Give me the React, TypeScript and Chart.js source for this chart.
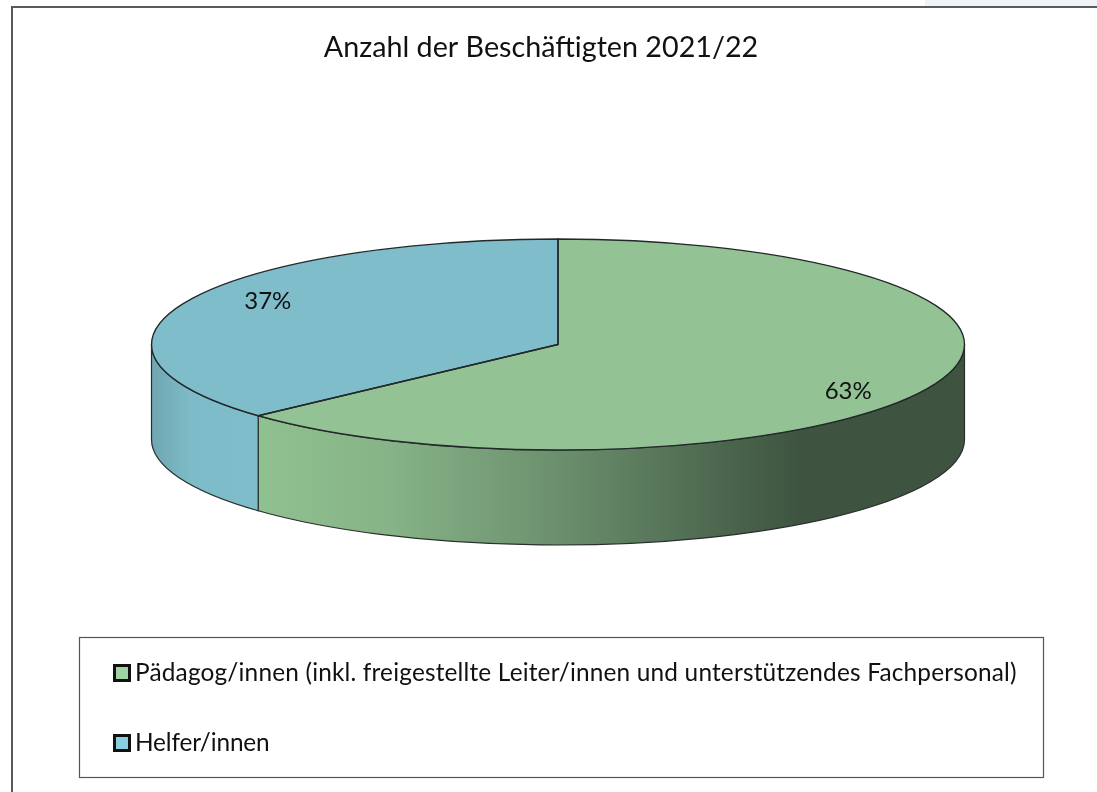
import { useEffect, useRef } from "react";
import { Chart, registerables } from "chart.js";

Chart.register(...registerables);

const TITLE = "Anzahl der Beschäftigten 2021/22";
const categories = ["Pädagog/innen (inkl. freigestellte Leiter/innen und unterstützendes Fachpersonal)", "Helfer/innen"];
const shares = [63.2, 36.8];
const topColors = ["#93c294", "#7fbdca"];
const legendColors = ["#a1d4a4", "#89cfdd"];
const legendTracking = [0.18, -0.15];

const FONT = "Lato, 'Open Sans', sans-serif";
const CX = 558, CY = 344.5, RX = 406.5, RY = 105.5, DEPTH = 95;

function ellipsePoint(a: number, dy = 0) {
  return [CX + RX * Math.cos(a), CY + RY * Math.sin(a) + dy];
}

function wallPath(ctx: CanvasRenderingContext2D, a: number, b: number) {
  ctx.beginPath();
  ctx.ellipse(CX, CY, RX, RY, 0, a, b, false);
  const [x, y] = ellipsePoint(b, DEPTH);
  ctx.lineTo(x, y);
  ctx.ellipse(CX, CY + DEPTH, RX, RY, 0, b, a, true);
  ctx.closePath();
}

const pie3d = {
  id: "pie3d",
  beforeDatasetDraw(chart: any) {
    const ctx = chart.ctx as CanvasRenderingContext2D;
    const arcs = chart.getDatasetMeta(0).data as any[];
    const grads = [
      [[258, "#90c190"], [390, "#86b387"], [560, "#6b8f6d"], [700, "#506c52"], [800, "#3e5440"], [965, "#3e5440"]],
      [[152, "#6fa6b2"], [190, "#7dbbc8"], [258, "#7fbdca"]],
    ] as [number, string][][];
    arcs.forEach((arc, i) => {
      const a = Math.max(arc.startAngle, 0);
      const b = Math.min(arc.endAngle, Math.PI);
      if (b <= a) return;
      const x0 = grads[i][0][0];
      const x1 = grads[i][grads[i].length - 1][0];
      const g = ctx.createLinearGradient(x0, 0, x1, 0);
      grads[i].forEach(([x, c]) => g.addColorStop((x - x0) / (x1 - x0), c));
      ctx.save();
      wallPath(ctx, a, b);
      ctx.fillStyle = g;
      ctx.fill();
      ctx.strokeStyle = "#2a2f2c";
      ctx.lineWidth = 1.2;
      ctx.stroke();
      ctx.restore();
    });
    const first = arcs[0];
    ctx.save();
    ctx.translate(CX, CY);
    ctx.scale(RX / first.outerRadius, RY / first.outerRadius);
    ctx.translate(-first.x, -first.y);
  },
  afterDatasetDraw(chart: any) {
    const ctx = chart.ctx as CanvasRenderingContext2D;
    ctx.restore();
    const arcs = chart.getDatasetMeta(0).data as any[];
    ctx.save();
    ctx.strokeStyle = "#23282a";
    ctx.lineWidth = 1.4;
    arcs.forEach((arc) => {
      ctx.beginPath();
      ctx.moveTo(CX, CY);
      const [x, y] = ellipsePoint(arc.startAngle);
      ctx.lineTo(x, y);
      ctx.ellipse(CX, CY, RX, RY, 0, arc.startAngle, arc.endAngle, false);
      ctx.closePath();
      ctx.stroke();
    });
    ctx.restore();
    // Value labels
    const values = chart.data.datasets[0].data as number[];
    const total = values.reduce((s, v) => s + v, 0);
    ctx.save();
    ctx.fillStyle = "#111";
    ctx.font = `24px ${FONT}`;
    ctx.textAlign = "center";
    ctx.textBaseline = "middle";
    arcs.forEach((arc, i) => {
      const mid = (arc.startAngle + arc.endAngle) / 2;
      const x = CX + RX * 0.78 * Math.cos(mid);
      const y = CY + RY * 1.06 * Math.sin(mid) + 2;
      ctx.fillText(`${Math.round((values[i] / total) * 100)}%`, x, y);
    });
    ctx.restore();
  },
  afterDraw(chart: any) {
    const ctx = chart.ctx as CanvasRenderingContext2D;
    ctx.save();
    // frame
    ctx.fillStyle = "#eff3f7";
    ctx.fillRect(925, 0, 172, 6);
    ctx.strokeStyle = "#5a5a5a";
    ctx.lineWidth = 2;
    ctx.beginPath();
    ctx.moveTo(12, 792);
    ctx.lineTo(12, 7);
    ctx.lineTo(1097, 7);
    ctx.stroke();
    // legend box
    ctx.strokeStyle = "#555";
    ctx.lineWidth = 1.2;
    ctx.strokeRect(79.5, 637.5, 964, 140);
    ctx.font = `24.4px ${FONT}`;
    ctx.textBaseline = "middle";
    ctx.textAlign = "left";
    const rows = [673, 743];
    (chart.data.labels as string[]).forEach((label, i) => {
      ctx.fillStyle = legendColors[i];
      ctx.fillRect(114.5, rows[i] - 7.5, 15, 15);
      ctx.strokeStyle = "#111";
      ctx.lineWidth = 3;
      ctx.strokeRect(114.5, rows[i] - 7.5, 15, 15);
      ctx.fillStyle = "#111";
      (ctx as any).letterSpacing = `${legendTracking[i]}px`;
      ctx.fillText(label, 135, rows[i]);
    });
    ctx.restore();
  },
};

export default function App() {
  const ref = useRef<HTMLCanvasElement>(null);
  useEffect(() => {
    const chart = new Chart(ref.current!, {
      type: "pie",
      data: {
        labels: categories,
        datasets: [{ data: shares, backgroundColor: topColors, borderWidth: 0, clip: false } as any],
      },
      options: {
        animation: false,
        responsive: false,
        layout: { padding: { left: 300, right: 315, top: 0, bottom: 200 } },
        plugins: {
          legend: { display: false },
          tooltip: { enabled: false },
          title: {
            display: true,
            text: TITLE,
            color: "#111",
            font: { family: FONT, size: 28.7, weight: "normal" },
            padding: { top: 31, bottom: 10 },
          },
        },
      },
      plugins: [pie3d],
    });
    return () => chart.destroy();
  }, []);
  return (
    <canvas
      ref={ref}
      width={1097}
      height={792}
      style={{ position: "fixed", left: 0, top: 0, width: 1097, height: 792 }}
    />
  );
}
